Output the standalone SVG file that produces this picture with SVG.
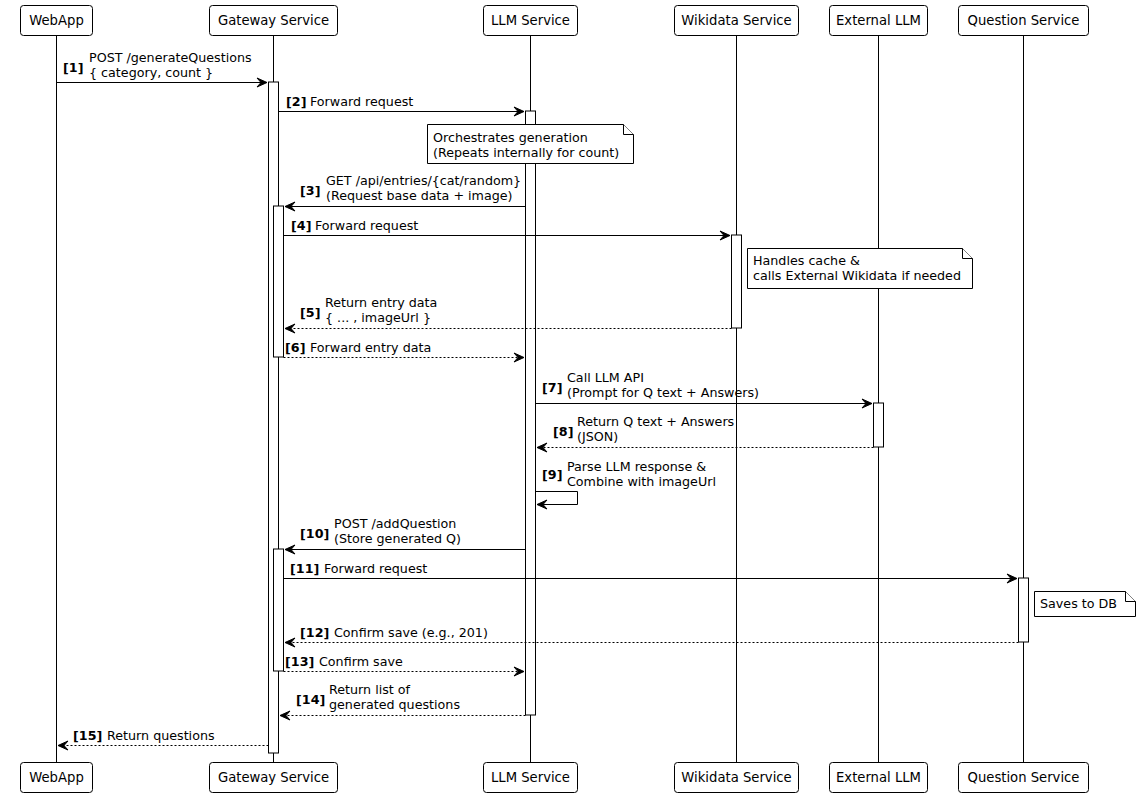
<svg xmlns="http://www.w3.org/2000/svg" width="1140" height="797" viewBox="0 0 1140 797">
<style>
text{font-family:"DejaVu Sans","Liberation Sans",sans-serif;font-size:12.7px;fill:#000}
.n{font-weight:bold}
.pt{text-anchor:middle;font-size:13.2px}
.box{fill:#fff;stroke:#000;stroke-width:1}
.life{stroke:#000;stroke-width:1;fill:none}
.act{fill:#fff;stroke:#000;stroke-width:1}
.note{fill:#fff;stroke:#000;stroke-width:1}
.m{stroke:#000;stroke-width:1;fill:none;marker-end:url(#ah)}
.d{stroke-dasharray:2,2}
</style>
<defs>
<marker id="ah" markerUnits="userSpaceOnUse" markerWidth="12" markerHeight="10" refX="10" refY="4" orient="auto" overflow="visible">
<path d="M0,-0.5 L10,4 L0,8.5 L4,4 Z" fill="#000" stroke="#000" stroke-width="1" stroke-linejoin="miter"/>
</marker>
</defs>
<rect width="1140" height="797" fill="#fff"/>
<g id="lifelines">
<line class="life" x1="56.5" y1="35" x2="56.5" y2="762"/>
<line class="life" x1="273.5" y1="35" x2="273.5" y2="762"/>
<line class="life" x1="530.5" y1="35" x2="530.5" y2="762"/>
<line class="life" x1="736.5" y1="35" x2="736.5" y2="762"/>
<line class="life" x1="878.5" y1="35" x2="878.5" y2="762"/>
<line class="life" x1="1023.5" y1="35" x2="1023.5" y2="762"/>
</g>
<g id="activations">
<rect class="act" x="268.5" y="82" width="10" height="671"/>
<rect class="act" x="273.5" y="206" width="10" height="151"/>
<rect class="act" x="273.5" y="549" width="10" height="122"/>
<rect class="act" x="525.5" y="111" width="10" height="604"/>
<rect class="act" x="731.5" y="235" width="10" height="93"/>
<rect class="act" x="873.5" y="403" width="10" height="44"/>
<rect class="act" x="1018.5" y="578" width="10" height="64"/>
</g>
<g id="WebApp">
<rect class="box" x="20.5" y="5.5" width="72" height="30" rx="3"/>
<text class="pt" x="56.5" y="25">WebApp</text>
<rect class="box" x="20.5" y="762.5" width="72" height="30" rx="3"/>
<text class="pt" x="56.5" y="782">WebApp</text>
</g>
<g id="Gateway">
<rect class="box" x="209.5" y="5.5" width="128" height="30" rx="3"/>
<text class="pt" x="273.5" y="25">Gateway Service</text>
<rect class="box" x="209.5" y="762.5" width="128" height="30" rx="3"/>
<text class="pt" x="273.5" y="782">Gateway Service</text>
</g>
<g id="LLM">
<rect class="box" x="483.5" y="5.5" width="94" height="30" rx="3"/>
<text class="pt" x="530.5" y="25">LLM Service</text>
<rect class="box" x="483.5" y="762.5" width="94" height="30" rx="3"/>
<text class="pt" x="530.5" y="782">LLM Service</text>
</g>
<g id="Wikidata">
<rect class="box" x="674.5" y="5.5" width="124" height="30" rx="3"/>
<text class="pt" x="736.5" y="25">Wikidata Service</text>
<rect class="box" x="674.5" y="762.5" width="124" height="30" rx="3"/>
<text class="pt" x="736.5" y="782">Wikidata Service</text>
</g>
<g id="ExternalLLM">
<rect class="box" x="829.5" y="5.5" width="98" height="30" rx="3"/>
<text class="pt" x="878.5" y="25">External LLM</text>
<rect class="box" x="829.5" y="762.5" width="98" height="30" rx="3"/>
<text class="pt" x="878.5" y="782">External LLM</text>
</g>
<g id="Question">
<rect class="box" x="958.5" y="5.5" width="130" height="30" rx="3"/>
<text class="pt" x="1023.5" y="25">Question Service</text>
<rect class="box" x="958.5" y="762.5" width="130" height="30" rx="3"/>
<text class="pt" x="1023.5" y="782">Question Service</text>
</g>
<g id="notes">
<path class="note" d="M427.5,124.5 H623.5 L633.5,134.5 V163.5 H427.5 Z"/>
<path class="note" d="M623.5,124.5 V134.5 H633.5"/>
<text x="433" y="142">Orchestrates generation</text>
<text x="433" y="157">(Repeats internally for count)</text>
<path class="note" d="M747.5,248.5 H962.5 L972.5,258.5 V288.5 H747.5 Z"/>
<path class="note" d="M962.5,248.5 V258.5 H972.5"/>
<text x="753" y="265">Handles cache &amp;</text>
<text x="753" y="280">calls External Wikidata if needed</text>
<path class="note" d="M1034.5,591.5 H1125.5 L1135.5,601.5 V616.5 H1034.5 Z"/>
<path class="note" d="M1125.5,591.5 V601.5 H1135.5"/>
<text x="1040" y="608">Saves to DB</text>
</g>
<g id="connectors">
<line class="m" x1="56.5" y1="82.5" x2="267" y2="82.5"/>
<line class="m" x1="278.5" y1="111.5" x2="524" y2="111.5"/>
<line class="m" x1="525.5" y1="206.5" x2="285" y2="206.5"/>
<line class="m" x1="283.5" y1="235.5" x2="730" y2="235.5"/>
<line class="m d" x1="731.5" y1="328.5" x2="285" y2="328.5"/>
<line class="m d" x1="283.5" y1="357.5" x2="524" y2="357.5"/>
<line class="m" x1="535.5" y1="403.5" x2="872" y2="403.5"/>
<line class="m d" x1="873.5" y1="447.5" x2="537" y2="447.5"/>
<path class="m" d="M535.5,491.5 H577.5 V504.5 H537"/>
<line class="m" x1="525.5" y1="549.5" x2="285" y2="549.5"/>
<line class="m" x1="283.5" y1="578.5" x2="1017" y2="578.5"/>
<line class="m d" x1="1018.5" y1="642.5" x2="285" y2="642.5"/>
<line class="m d" x1="283.5" y1="671.5" x2="524" y2="671.5"/>
<line class="m d" x1="525.5" y1="715.5" x2="280" y2="715.5"/>
<line class="m d" x1="268.5" y1="745.5" x2="58" y2="745.5"/>
</g>
<g id="labels">
<text class="n" x="63" y="72">[1]</text>
<text x="89" y="62">POST /generateQuestions</text>
<text x="89" y="77">{ category, count }</text>
<text class="n" x="286" y="106">[2]</text>
<text x="310" y="106">Forward request</text>
<text class="n" x="300" y="195">[3]</text>
<text x="326" y="185">GET /api/entries/{cat/random}</text>
<text x="326" y="200">(Request base data + image)</text>
<text class="n" x="291" y="230">[4]</text>
<text x="315" y="230">Forward request</text>
<text class="n" x="300" y="317">[5]</text>
<text x="325" y="307">Return entry data</text>
<text x="325" y="322">{ ... , imageUrl }</text>
<text class="n" x="285" y="352">[6]</text>
<text x="310" y="352">Forward entry data</text>
<text class="n" x="542" y="392">[7]</text>
<text x="567" y="382">Call LLM API</text>
<text x="567" y="397">(Prompt for Q text + Answers)</text>
<text class="n" x="553" y="436">[8]</text>
<text x="577" y="426">Return Q text + Answers</text>
<text x="577" y="441">(JSON)</text>
<text class="n" x="542" y="479">[9]</text>
<text x="567" y="471">Parse LLM response &amp;</text>
<text x="567" y="486">Combine with imageUrl</text>
<text class="n" x="300" y="538">[10]</text>
<text x="334" y="528">POST /addQuestion</text>
<text x="334" y="543">(Store generated Q)</text>
<text class="n" x="290" y="573">[11]</text>
<text x="324" y="573">Forward request</text>
<text class="n" x="300" y="637">[12]</text>
<text x="334" y="637">Confirm save (e.g., 201)</text>
<text class="n" x="285" y="666">[13]</text>
<text x="319" y="666">Confirm save</text>
<text class="n" x="296" y="704">[14]</text>
<text x="329" y="694">Return list of</text>
<text x="329" y="709">generated questions</text>
<text class="n" x="73" y="740">[15]</text>
<text x="107" y="740">Return questions</text>
</g>
</svg>
